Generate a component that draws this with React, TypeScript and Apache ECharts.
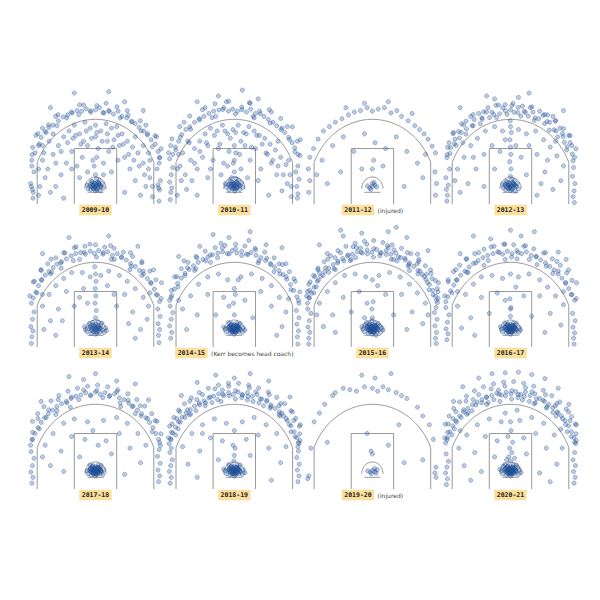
import React, { useEffect, useRef } from "react";
import * as echarts from "echarts";

// Seasons and notes
const SEASONS = ["2009-10", "2010-11", "2011-12", "2012-13", "2013-14", "2014-15", "2015-16", "2016-17", "2017-18", "2018-19", "2019-20", "2020-21"];
const NOTES = ["", "", "(injured)", "", "", "(Kerr becomes head coach)", "", "", "", "", "(injured)", ""];

// Shot locations, flat [x, y] pairs in tenths of a foot (x from basket centre, y from baseline)
// Frequent three-point spots (beyond the arc)
const threeSpotsA = [
  242,160, 247,189, 214,196, 225,234, 196,241, 172,250, 169,285, 138,282, 123,304, 93,295, 81,333, 52,317, 28,313, 5,337, -19,319, -45,339, -63,306, -91,315, -108,295, -141,306, -145,268, -177,271, -186,245, -217,241, -212,206, -237,194, -239,169,
];
const threeSpotsB = [
  248,166, 229,179, 249,220, 208,221, 219,264, 180,260, 175,293, 135,277, 132,323, 98,309, 71,300, 57,347, 29,323, 4,308, -21,352, -43,324, -73,343, -84,296, -120,323, -131,288, -168,301, -165,256, -206,265, -204,229, -235,223, -221,185, -248,175,
];
// Frequent spots at the rim
const rimSpots = [
  -4,58, 4,62, -10,66, 10,56, -16,60, 16,66, -2,70, 2,52, -8,52, 8,74, -20,68, 20,62, -12,76, 12,70,
];
// Frequent mid-range spots (early seasons)
const midSpots = [
  -215,120, -195,175, -175,215, -150,140, -130,180, -105,210, -75,235, -55,205, -35,250, -15,225, 5,245, 25,215, 45,240, 65,195, 85,235, 105,205, 125,170, 145,150, 165,130, 185,100, 205,150, 215,60, -215,30, 215,25, -90,120,
];

const shots2009_10 = [
  -240,150, -228,175, -215,200, -205,228, -190,248, -176,262, -160,270, -140,285, -122,298, -105,305, -88,312, -70,320, -52,318, -35,326, -18,315, 0,322, 15,330, 32,312, 50,320, 68,308, 85,318, 100,300, 118,295, 135,282, 150,275, 165,262, 182,250, 196,236, 210,220, 225,205, 236,180, 242,158, -60,340, 40,345, 120,320, -150,300, -200,260, 190,270, -225,235, 230,230,
  -238,50, -242,60, -235,40, -245,70, -232,110, -240,130, -236,20, 238,55, 242,48, 236,65, 245,80, 232,120, 240,10, 240,140,
  -200,150, -180,120, -160,170, -140,200, -120,230, -100,250, -80,270, -60,240, -40,280, -20,260, 0,270, 20,250, 40,275, 60,260, 80,265, 100,240, 120,215, 140,195, 160,175, 180,140, 200,120, 205,90, 190,60, 170,30, 150,80, 130,120, 110,160, 90,200, 70,220, 50,180, 30,140, 10,190, -10,150, -30,200, -50,160, -70,130, -90,180, -110,140, -130,100, -150,60, -170,40, -190,90, -210,60, -120,20, 110,40, -60,90, 60,110, -30,110, 30,100, 0,230, -85,225, 85,150, -160,240, 150,230, -45,215, 45,215, 180,200, -200,200, 200,175,
  0,60, -10,55, 12,65, -22,62, 20,58, -5,72, 6,48, -28,52, 26,70, -15,78, 14,80, 0,45, -32,65, 30,55, -8,66, 10,72, -18,50, 4,86, -2,58, 18,46,
  0,100, -5,130, 5,160, -80,380, 50,385, 180,320, -170,330, 110,350,
  ...threeSpotsA, ...midSpots, ...rimSpots,
];
const shots2010_11 = [
  -244,155, -232,170, -222,195, -210,215, -198,238, -183,255, -168,264, -150,280, -132,292, -115,300, -96,310, -78,318, -58,322, -40,330, -22,318, -6,325, 12,318, 28,332, 46,315, 62,325, 80,310, 96,318, 112,300, 128,290, 146,280, 160,268, 176,255, 190,245, 205,228, 218,210, 228,192, 240,170, -110,330, -30,350, 60,345, 140,315, -190,280, 200,265, -240,200, 238,215, -70,300, 75,295,
  -240,40, -236,55, -244,75, -238,100, -232,125, -242,15, 240,35, 236,60, 244,85, 232,110, 240,130, 238,20,
  -205,130, -185,100, -165,150, -150,190, -130,215, -110,240, -90,260, -65,250, -45,270, -25,240, -5,255, 15,270, 35,245, 55,265, 75,250, 95,235, 115,225, 135,205, 155,185, 175,160, 195,135, 210,100, 200,70, 180,45, 160,100, 140,140, 120,175, 100,120, 80,190, 60,150, 40,200, 20,170, 0,200, -20,180, -40,140, -60,190, -80,150, -100,200, -120,160, -140,120, -160,80, -180,50, -200,80, -140,30, 130,30, -50,100, 50,90, -25,130, 25,120, 0,150, -100,90, 90,80, -170,210, 165,215, -210,170,
  0,62, -12,58, 12,60, -24,66, 22,64, -6,74, 8,52, -30,58, 28,72, -16,80, 16,82, 2,44, -34,70, 32,56, -4,66, 10,76, -20,48, 6,88, -2,54, 20,50, -10,90, 0,70,
  0,110, -4,140, 6,175, -60,370, 90,360, -140,350, 30,390,
  ...threeSpotsB, ...midSpots, ...rimSpots,
];
const shots2011_12 = [
  -236,160, -222,190, -205,222, -185,250, -162,265, -140,280, -115,292, -90,305, -68,315, -45,320, -20,330, 0,318, 22,325, 45,330, 70,312, 92,320, 110,300, 135,285, 160,268, 178,255, 195,240, 210,222, 225,198, 238,175, -30,345, 60,350, -100,330, 150,310,
  -240,40, -236,80, 238,30, 242,70, 236,110, -242,120,
  -190,150, -150,200, -110,230, -70,180, -30,240, 10,210, 50,190, 90,230, 130,180, 170,140, 190,90, -170,70, -120,110, 120,60, 40,130, -40,120, -210,100, 200,170,
  0,60, -10,55, 10,65, -18,62, 16,58, 0,70, -6,50, 6,74, 0,120, 5,150,
];
const shots2012_13 = [
  236,148, 233,171, 212,185, 225,210, 203,211, 199,231, 178,230, 187,260, 164,254, 146,253, 148,280, 128,275, 129,306, 107,292, 90,286, 85,315, 67,301, 56,314, 39,301, 29,331, 14,314, 0,322, -13,307, -29,329, -41,309, -52,296, -70,315, -79,296, -101,316, -107,291, -114,275, -137,289, -141,268, -168,284, -166,257, -168,239, -196,248, -193,226, -210,222, -205,201, -226,193, -228,173, -240,159,
  -150,300, -120,310, -85,330, -55,338, -20,340, 10,345, 45,335, 75,330, 110,318, 140,305, 170,285, 200,258, 220,235, -185,275, -215,245, -232,210, 232,200, 160,300, -60,360, 30,365,
  -238,30, -242,50, -235,65, -244,90, -230,120, -240,10, 236,25, 240,45, 243,70, 234,95, 238,125, 241,5,
  -200,120, -175,160, -150,200, -125,225, -95,250, -60,265, -30,250, 30,255, 60,240, 95,250, 125,220, 150,195, 175,165, 200,130, 190,80, 160,50, 130,110, 100,170, 70,200, -70,200, -100,170, -130,120, -160,70, -190,40, -40,180, 40,160, -60,120, 60,100, -140,160, 140,150, -20,220, 20,200, -100,60, 100,30, -180,210, 170,215, 115,70, -210,80,
  0,95, 2,120, -3,145, 1,170, 0,195, -2,220, 3,245, 0,265, -1,285,
  0,60, -12,56, 12,62, -22,64, 22,60, -6,72, 6,50, -28,56, 26,70, -16,78, 14,80, 0,46, -30,68, 30,52, -8,64, 10,70, -18,48, 4,84, -2,56, 18,44,
  -90,370, 70,380, 200,320, -190,330,
  ...threeSpotsA, ...rimSpots,
];
const shots2013_14 = [
  -242,150, -235,168, -225,188, -215,210, -203,230, -190,246, -176,258, -160,272, -145,284, -128,292, -110,302, -92,312, -75,320, -56,324, -38,318, -20,328, -4,320, 12,330, 28,318, 46,326, 64,314, 82,320, 98,306, 116,298, 132,286, 150,276, 166,262, 182,250, 196,234, 210,218, 222,198, 234,178, 242,156,
  -230,225, -205,262, -180,285, -150,305, -115,322, -80,340, -40,345, 0,350, 35,342, 70,338, 105,325, 140,310, 175,288, 205,260, 228,230, -60,300, 60,300, -130,270, 130,265, -170,250, 175,245,
  -240,35, -236,55, -244,70, -238,95, -232,120, -242,12, 238,40, 242,60, 236,80, 244,105, 235,130, 240,15,
  -200,140, -175,180, -150,210, -120,235, -90,255, -50,255, -20,240, 20,245, 50,260, 90,245, 120,225, 150,200, 180,170, 200,140, 195,95, 170,60, 140,120, 110,180, 80,140, -80,140, -110,190, -140,130, -170,90, -195,60, -45,200, 45,210, -150,40, 150,30, -60,170, 70,180, -125,90, 125,80, -200,180, 205,185, -30,150,
  0,100, 3,125, -2,150, 1,175, -1,200, 2,225, 0,250, -3,275,
  0,60, -14,56, 14,62, -26,64, 26,58, -38,60, 38,66, -6,74, 6,48, -20,72, 20,74, -32,52, 32,50, 0,44, -10,84, 10,86, -42,70, 42,56, -4,64, 8,68, -16,46, 16,50, 0,78, -24,80, 24,82,
  -100,375, 50,380, -200,320, 160,345,
  ...threeSpotsB, ...rimSpots,
];
const shots2014_15 = [
  -244,160, -236,176, -226,198, -214,218, -200,236, -186,252, -170,266, -154,278, -136,290, -118,300, -100,308, -82,316, -62,322, -44,326, -26,320, -8,330, 10,322, 28,328, 46,318, 64,324, 82,314, 100,306, 118,296, 136,286, 152,274, 168,262, 184,248, 198,232, 212,214, 224,194, 236,172, 244,150,
  -225,240, -200,268, -175,290, -145,310, -110,328, -72,340, -35,348, 5,352, 40,346, 78,338, 115,325, 150,305, 182,282, 208,258, 230,225, -90,290, 90,288, -150,262, 150,258, -50,355, 55,365, -190,295, 195,285, -20,375, -130,345, 120,350,
  -240,30, -236,50, -244,72, -238,95, -232,118, -242,140, 238,35, 242,55, 236,78, 244,100, 234,125, 240,10,
  -195,130, -165,175, -135,215, -100,240, -60,250, -25,230, 25,240, 65,250, 105,235, 140,210, 170,170, 195,120, 180,70, 140,140, 100,190, -100,180, -140,110, -180,60, -40,170, 40,160, -70,110, 70,100, -20,140, 0,200, 15,230, -210,160, 205,165, 160,40,
  0,110, -3,150, 4,180,
  0,60, -12,56, 12,62, -24,64, 24,58, -34,62, 34,66, -6,72, 6,50, -18,72, 18,74, -30,52, 30,50, 0,44, -10,80, 10,82, -40,68, 40,58, -4,64, 8,68, -16,48, 16,52, 0,76, -22,84, 22,80, 0,54, -8,58, 8,60,
  -80,385, 60,395, 180,340, -210,310,
  ...threeSpotsA, ...rimSpots, ...rimSpots,
];
const shots2015_16 = [
  -245,150, -238,168, -230,185, -220,205, -208,225, -195,242, -180,258, -165,270, -148,282, -130,294, -112,303, -94,312, -75,318, -56,326, -38,322, -20,332, -2,324, 16,334, 34,322, 52,330, 70,318, 88,322, 106,306, 124,298, 140,288, 156,276, 172,262, 188,248, 202,232, 215,214, 228,194, 238,174, 245,152,
  -240,215, -222,245, -205,270, -182,292, -158,312, -130,330, -100,345, -65,355, -30,362, 5,365, 40,358, 75,350, 110,338, 145,320, 175,300, 200,278, 222,252, 238,228, -245,190, 245,200, -80,300, 80,300, -140,265, 140,262, -200,255, 205,250, -170,320, 170,318, -40,390, 60,395, -110,380, 130,375, -60,340, 60,340,
  -240,30, -236,50, -243,68, -238,90, -232,115, -244,130, -240,10, 238,30, 242,50, 236,72, 244,95, 234,118, 240,135, 241,12,
  -200,150, -170,190, -140,220, -105,245, -65,250, -25,240, 25,245, 65,255, 105,240, 140,215, 170,185, 200,150, 190,80, 150,120, 110,180, -110,170, -150,110, -185,70, -50,190, 50,180, -80,120, 80,110, -20,150, 20,210, -30,100, 130,60, -140,50, 0,230, 210,110, -210,110,
  0,100, -2,130, 3,155,
  0,60, -12,56, 12,62, -24,64, 24,58, -36,62, 36,66, -6,72, 6,50, -18,72, 18,74, -30,52, 30,50, 0,44, -10,80, 10,82, -40,70, 40,58, -4,64, 8,68, -16,48, 16,52, 0,76, -22,84, 22,80, 0,54, -8,58, 8,60, -28,76, 28,72, -2,90, 14,40,
  -120,400, 90,410, -200,350, 210,330,
  ...threeSpotsA, ...threeSpotsB, ...rimSpots, ...rimSpots,
];
const shots2016_17 = [
  -244,155, -236,172, -226,192, -214,212, -202,230, -188,246, -172,260, -156,274, -140,286, -122,296, -104,306, -86,314, -66,320, -48,326, -30,318, -12,328, 6,320, 24,330, 42,320, 60,326, 78,314, 96,310, 114,298, 132,288, 148,276, 164,264, 180,250, 194,236, 208,218, 220,200, 232,180, 242,160,
  -235,230, -215,258, -192,280, -165,302, -135,320, -100,335, -62,345, -25,352, 12,350, 50,345, 88,336, 125,322, 158,302, 188,280, 212,254, 232,228, -100,280, 100,282, -160,255, 160,252, -75,370, 40,380, -190,320, 180,325, -20,300, 25,302, 210,300,
  -240,25, -236,45, -243,62, -238,85, -232,110, -244,135, 238,30, 242,48, 236,68, 244,90, 234,115, 240,10,
  -200,140, -170,180, -140,215, -110,240, -70,245, -30,235, 30,240, 70,250, 110,230, 140,205, 170,175, 200,145, 190,75, 150,115, 110,175, -110,170, -150,100, -185,65, -50,185, 50,175, -80,115, 80,105, -20,160, 20,205, 0,130, 130,50, -135,40, 0,250, -200,190, 200,190,
  0,60, -12,56, 12,62, -24,64, 24,58, -34,62, 34,66, -6,72, 6,50, -18,72, 18,74, -30,52, 30,50, 0,44, -10,80, 10,82, -38,70, 38,58, -4,64, 8,68, -16,48, 16,52, 0,76, -22,82, 22,80, 0,54, -8,58, 8,60,
  0,105, 2,135, -2,165, -140,380, 90,395, 0,400,
  ...threeSpotsB, ...rimSpots, ...rimSpots,
];
const shots2017_18 = [
  -245,150, -238,170, -228,190, -217,210, -205,228, -192,244, -178,258, -162,270, -146,282, -128,292, -110,300, -92,310, -74,318, -55,322, -37,330, -18,322, 0,332, 18,324, 36,330, 54,320, 72,326, 90,312, 108,306, 126,294, 142,284, 158,270, 174,258, 190,244, 204,228, 217,210, 228,190, 238,170, 245,150,
  -238,232, -218,258, -195,282, -168,302, -138,320, -104,335, -68,345, -30,352, 8,356, 46,350, 84,340, 122,326, 156,306, 186,284, 212,258, 232,232, -150,255, 150,258, -95,280, 95,282, -45,375, 80,370, -205,300, 200,305,
  -240,20, -236,40, -244,58, -238,80, -232,105, -243,128, 238,25, 242,45, 236,65, 244,88, 234,112, 240,135,
  -190,150, -160,190, -120,225, -80,240, -30,230, 30,235, 80,245, 120,225, 160,190, 190,150, 170,90, 130,140, 90,190, -90,180, -130,130, -170,80, -40,170, 40,165, -60,110, 60,120, -10,200, 10,150, -120,60, 110,50, -200,110,
  0,60, -12,56, 12,62, -24,64, 24,58, -32,62, 32,66, -6,72, 6,50, -18,72, 18,74, -28,52, 28,50, 0,44, -10,80, 10,82, -4,64, 8,68, -16,48, 16,52, 0,76, -22,82, 22,80, 0,54, -8,58,
  -100,385, 150,360, 0,395,
  ...threeSpotsA, ...rimSpots, ...rimSpots,
];
const shots2018_19 = [
  -246,155, -240,172, -232,192, -222,212, -210,230, -197,246, -182,260, -166,272, -150,284, -132,294, -114,302, -96,312, -78,318, -59,326, -40,320, -22,330, -4,324, 14,332, 32,322, 50,330, 68,318, 86,324, 104,308, 122,300, 138,288, 154,276, 170,264, 186,250, 200,234, 214,216, 226,196, 236,176, 244,156,
  -244,215, -228,245, -210,270, -188,292, -162,312, -132,330, -98,345, -60,356, -22,362, 16,362, 54,356, 92,346, 128,332, 160,314, 190,292, 214,268, 232,242, 246,215, -110,285, 110,285, -170,255, 170,255, -50,300, 50,305, -140,365, 130,370, -200,320, 210,315, -70,390, 60,395, 0,380,
  -242,20, -238,40, -245,60, -240,80, -234,100, -243,125, -238,140, 240,25, 244,45, 238,65, 245,85, 236,108, 242,130, 240,145,
  -195,145, -160,190, -120,220, -75,240, -30,225, 30,230, 75,245, 120,220, 160,190, 195,145, 175,90, 130,140, 90,185, -90,175, -130,130, -175,85, -45,165, 45,170, -60,100, 60,115, 0,200, -5,150, -140,40, 140,30, -120,190,
  0,60, -12,56, 12,62, -24,64, 24,58, -34,62, 34,66, -6,72, 6,50, -18,72, 18,74, -30,52, 30,50, 0,44, -10,80, 10,82, -40,68, 40,56, -4,64, 8,68, -16,48, 16,52, 0,76, -22,84, 22,82, -2,96,
  0,115, 3,140,
  ...threeSpotsA, ...threeSpotsB, ...rimSpots, ...rimSpots,
];
const shots2019_20 = [
  -150,320, -140,330, -110,345, -85,340, -60,335, -30,350, 0,345, 20,335, 40,350, 60,340, 90,330, 110,320, 130,310, -180,290, -200,260, -220,230, 170,280, 190,250, 215,220, 10,380, -40,390, 70,395, 230,170, -232,140,
  -244,35, -240,45, 240,40, 236,55, 240,75,
  -170,160, 100,220, -20,190, 0,120, 60,150, 120,90, 190,100,
  -18,62, -8,58, 0,64, 10,60, 18,66, -4,52, 8,70, 14,54, -5,130,
];
const shots2020_21 = [
  -245,158, -238,176, -229,196, -218,216, -206,234, -192,250, -177,264, -161,276, -144,288, -126,298, -108,306, -90,314, -71,320, -52,328, -34,322, -16,332, 2,326, 20,334, 38,324, 56,332, 74,320, 92,326, 110,310, 128,300, 144,290, 160,278, 176,264, 192,250, 206,234, 219,216, 230,196, 240,176, 246,156,
  -246,222, -232,250, -214,276, -192,298, -166,318, -136,336, -102,350, -64,360, -26,366, 12,368, 50,362, 88,352, 124,338, 156,320, 186,298, 210,274, 230,248, 244,222, -120,380, -70,395, -20,398, 30,400, 80,392, 130,378, -180,350, 180,345, -90,290, 90,292, -160,260, 160,262, -40,300, 45,305, -215,300, 220,290,
  -242,15, -238,35, -245,55, -240,75, -234,95, -243,120, 240,20, 244,40, 238,60, 245,80, 236,100, 242,125,
  -195,140, -165,185, -125,220, -80,240, -35,230, 35,235, 80,245, 125,225, 165,185, 195,140, 175,85, 135,140, 95,190, -95,180, -135,125, -175,80, -50,165, 50,175, -60,110, 60,120, -110,60, 110,55, -190,200, 190,205, -20,260, 25,270, -150,30, 150,25,
  0,95, -6,110, 5,125, -3,140, 8,160, -10,180, 2,200, 0,230, -15,100, 15,105,
  0,60, -12,56, 12,62, -24,64, 24,58, -34,62, 34,66, -6,72, 6,50, -18,72, 18,74, -30,52, 30,50, 0,44, -10,80, 10,82, -40,68, 40,56, -4,64, 8,68, -16,48, 16,52, 0,76, -22,84, 22,82, 0,54, -8,58, 8,60, -28,78, 28,74,
  ...threeSpotsA, ...threeSpotsB, ...rimSpots, ...rimSpots,
];

const SHOTS = [shots2009_10, shots2010_11, shots2011_12, shots2012_13, shots2013_14, shots2014_15, shots2015_16, shots2016_17, shots2017_18, shots2018_19, shots2019_20, shots2020_21];

// Layout (pixels)
const COL_X = [95.5, 234.3, 372.4, 510.5];
const ROW_BASE = [204, 347, 489];
const SX = 2.65; // px per foot horizontally
const SY = 2.92; // px per foot vertically

// Court geometry (feet)
const THREE_R = 23.75;
const CORNER_X = 22;
const BASKET_Y = 5.25;

function toPoints(flat: number[]) {
  const out: number[][] = [];
  for (let i = 0; i + 1 < flat.length; i += 2) out.push([flat[i] / 10, flat[i + 1] / 10]);
  return out;
}

function courtLines() {
  const cornerTop = BASKET_Y + Math.sqrt(THREE_R * THREE_R - CORNER_X * CORNER_X);
  const a0 = Math.acos(CORNER_X / THREE_R);
  const three: number[][] = [[CORNER_X, 0], [CORNER_X, cornerTop]];
  const steps = 60;
  for (let k = 0; k <= steps; k++) {
    const a = a0 + ((Math.PI - 2 * a0) * k) / steps;
    three.push([THREE_R * Math.cos(a), BASKET_Y + THREE_R * Math.sin(a)]);
  }
  three.push([-CORNER_X, 0]);
  const key = [[-8, 0], [-8, 19], [8, 19], [8, 0]];
  const ra: number[][] = [];
  for (let k = 0; k <= 24; k++) {
    const a = (Math.PI * k) / 24;
    ra.push([4 * Math.cos(a), BASKET_Y + 4 * Math.sin(a)]);
  }
  const board = [[-3, 4], [3, 4]];
  return [three, key, ra, board];
}

export default function App() {
  const ref = useRef<HTMLDivElement>(null);
  useEffect(() => {
    if (!ref.current) return;
    const chart = echarts.init(ref.current, undefined, { renderer: "svg" });
    const grid: any[] = [];
    const xAxis: any[] = [];
    const yAxis: any[] = [];
    const series: any[] = [];
    const title: any[] = [];
    const lines = courtLines();
    SEASONS.forEach((season, i) => {
      const col = i % 4;
      const row = Math.floor(i / 4);
      const cx = COL_X[col];
      const base = ROW_BASE[row];
      grid.push({ left: cx - 25 * SX, top: base - 40 * SY, width: 50 * SX, height: 45 * SY, containLabel: false });
      xAxis.push({ gridIndex: i, type: "value", min: -25, max: 25, show: false });
      yAxis.push({ gridIndex: i, type: "value", min: -5, max: 40, show: false });
      lines.forEach((ln) => {
        series.push({
          type: "line", xAxisIndex: i, yAxisIndex: i, data: ln, symbol: "none", silent: true,
          lineStyle: { color: "#8d8d8d", width: 0.9 }, clip: false, z: 1,
        });
      });
      series.push({
        type: "scatter", xAxisIndex: i, yAxisIndex: i, data: toPoints(SHOTS[i]), symbolSize: 4.2,
        silent: true, clip: false, z: 2,
        itemStyle: { color: "rgba(38,88,160,0.38)", borderColor: "rgba(28,72,140,0.65)", borderWidth: 0.6 },
      });
      const note = NOTES[i];
      title.push({
        left: cx, top: base + 1.5, textAlign: "center", padding: 0,
        text: note ? `{a|${season}}{b|${note}}` : `{a|${season}}`,
        textStyle: {
          rich: {
            a: { fontFamily: "DejaVu Sans Mono", fontWeight: "bold", fontSize: 6.5, color: "#222", backgroundColor: "#fbdf9b", padding: [2, 2.5, 1.5, 2.5], lineHeight: 9 },
            b: { fontFamily: "DejaVu Sans", fontWeight: "normal", fontSize: 6, color: "#444", padding: [0, 0, 0, 3.5], lineHeight: 9 },
          },
        },
      });
    });
    chart.setOption({ animation: false, backgroundColor: "#fff", grid, xAxis, yAxis, series, title });
    return () => chart.dispose();
  }, []);
  return <div ref={ref} style={{ position: "fixed", left: 0, top: 0, width: 600, height: 600 }} />;
}
